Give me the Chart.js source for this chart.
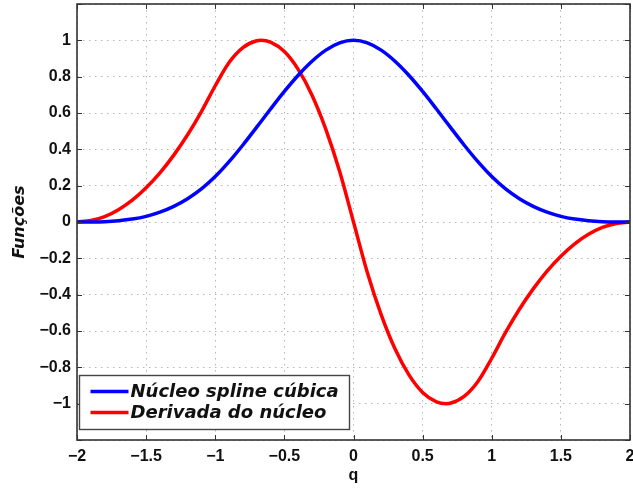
<!DOCTYPE html>
<html>
<head>
<meta charset="utf-8">
<script src="https://cdn.jsdelivr.net/npm/chart.js@4.4.1/dist/chart.umd.min.js"></script>
<style>
    html, body { margin: 0; padding: 0; background: #fff; }
</style>
</head>
<body>
<canvas id="grafico" width="633" height="488"></canvas>
<script>
// Valeurs (q de -2 à 2)
const qValues = [
    -2.0, -1.9, -1.8, -1.7, -1.6, -1.5, -1.4, -1.3, -1.2, -1.1,
    -1.0, -0.9, -0.8, -0.7, -0.67, -0.6, -0.5, -0.4, -0.3, -0.2, -0.1,
    0.0, 0.1, 0.2, 0.3, 0.4, 0.5, 0.6, 0.67, 0.7, 0.8, 0.9,
    1.0, 1.1, 1.2, 1.3, 1.4, 1.5, 1.6, 1.7, 1.8, 1.9, 2.0
];
const nucleoValues = [
    0.0, 0.0003, 0.002, 0.007, 0.016, 0.031, 0.054, 0.086, 0.128, 0.182,
    0.25, 0.332, 0.424, 0.522, 0.552, 0.622, 0.719, 0.808, 0.885, 0.946, 0.986,
    1.0, 0.986, 0.946, 0.885, 0.808, 0.719, 0.622, 0.552, 0.522, 0.424, 0.332,
    0.25, 0.182, 0.128, 0.086, 0.054, 0.031, 0.016, 0.007, 0.002, 0.0003, 0.0
];
const derivadaValues = [
    0.0, 0.008, 0.03, 0.068, 0.12, 0.188, 0.27, 0.368, 0.48, 0.608,
    0.75, 0.878, 0.96, 0.998, 1.0, 0.99, 0.938, 0.84, 0.698, 0.51, 0.278,
    0.0, -0.278, -0.51, -0.698, -0.84, -0.938, -0.99, -1.0, -0.998, -0.96, -0.878,
    -0.75, -0.608, -0.48, -0.368, -0.27, -0.188, -0.12, -0.068, -0.03, -0.008, 0.0
];
const seriesLabels = ['Núcleo spline cúbica', 'Derivada do núcleo'];
const seriesColors = ['#0000ff', '#ff0000'];
const xTickValues = [-2, -1.5, -1, -0.5, 0, 0.5, 1, 1.5, 2];
const yTickValues = [-1.2, -1, -0.8, -0.6, -0.4, -0.2, 0, 0.2, 0.4, 0.6, 0.8, 1, 1.2];

const tickFont = { family: '"Liberation Sans", Arial, sans-serif', size: 16, weight: 'bold' };
const frameColor = '#333333';

/**
 * Formate une graduation à la manière de MATLAB (signe moins typographique)
 */
function formatTick(value) {
    const r = Math.round(value * 10) / 10;
    return String(r).replace('-', '\u2212');
}

/**
 * Dessine le cadre, les graduations internes et la légende encadrée
 */
const cadrePlugin = {
    id: 'cadre',
    afterDraw(chart) {
        const { ctx, chartArea: a, scales } = chart;
        ctx.save();

        // Graduations vers l'intérieur sur les quatre côtés
        ctx.strokeStyle = frameColor;
        ctx.lineWidth = 1;
        const len = 5;
        xTickValues.forEach(v => {
            const x = Math.round(scales.x.getPixelForValue(v)) + 0.5;
            ctx.beginPath();
            ctx.moveTo(x, a.bottom); ctx.lineTo(x, a.bottom - len);
            ctx.moveTo(x, a.top); ctx.lineTo(x, a.top + len);
            ctx.stroke();
        });
        yTickValues.forEach(v => {
            const y = Math.round(scales.y.getPixelForValue(v)) + 0.5;
            ctx.beginPath();
            ctx.moveTo(a.left, y); ctx.lineTo(a.left + len, y);
            ctx.moveTo(a.right, y); ctx.lineTo(a.right - len, y);
            ctx.stroke();
        });

        // Cadre du graphique
        ctx.lineWidth = 1.6;
        ctx.strokeRect(a.left, a.top, a.right - a.left, a.bottom - a.top);

        // Légende à l'intérieur, en bas à gauche
        const box = { x: 79.5, y: a.bottom - 64.5, w: 270, h: 54 };
        ctx.fillStyle = '#fff';
        ctx.fillRect(box.x, box.y, box.w, box.h);
        ctx.lineWidth = 1.4;
        ctx.strokeStyle = '#444';
        ctx.strokeRect(box.x, box.y, box.w, box.h);

        ctx.font = 'italic bold 18px "DejaVu Sans", sans-serif';
        ctx.textBaseline = 'middle';
        chart.data.datasets.forEach((ds, i) => {
            const y = box.y + 16 + i * 21;
            ctx.strokeStyle = ds.borderColor;
            ctx.lineWidth = 3.5;
            ctx.beginPath();
            ctx.moveTo(box.x + 11, y);
            ctx.lineTo(box.x + 49, y);
            ctx.stroke();
            ctx.fillStyle = '#111';
            ctx.fillText(ds.label, box.x + 51, y + 1);
        });
        ctx.restore();
    }
};

const ctx = document.getElementById('grafico');

const chart = new Chart(ctx, {
    type: 'line',
    data: {
        datasets: [nucleoValues, derivadaValues].map((values, i) => ({
            label: seriesLabels[i],
            data: qValues.map((q, k) => ({ x: q, y: values[k] })),
            borderColor: seriesColors[i],
            borderWidth: 3.5,
            pointRadius: 0,
            fill: false,
            cubicInterpolationMode: 'monotone'
        }))
    },
    options: {
        responsive: false,
        animation: false,
        devicePixelRatio: 1,
        layout: { padding: { top: 4, right: 3, left: 0, bottom: 0 } },
        plugins: {
            legend: { display: false },
            tooltip: { enabled: false }
        },
        scales: {
            x: {
                type: 'linear',
                min: -2,
                max: 2,
                afterFit(scale) {
                    scale.height = 48;
                    scale.paddingLeft = 0;
                    scale.paddingRight = 0;
                },
                afterBuildTicks(scale) { scale.ticks = xTickValues.map(v => ({ value: v })); },
                ticks: {
                    color: '#111',
                    font: tickFont,
                    padding: 7,
                    maxRotation: 0,
                    callback: formatTick
                },
                grid: {
                    color: '#b5b5b5',
                    drawTicks: false,
                    tickLength: 0
                },
                border: { display: false, dash: [1.5, 4.5] },
                title: {
                    display: true,
                    text: 'q',
                    color: '#111',
                    font: { family: '"Liberation Sans", Arial, sans-serif', size: 16, weight: 'bold' },
                    padding: { top: 0, bottom: 3 }
                }
            },
            y: {
                type: 'linear',
                min: -1.2,
                max: 1.2,
                afterFit(scale) {
                    scale.width = 77;
                    scale.paddingTop = 0;
                    scale.paddingBottom = 0;
                },
                afterBuildTicks(scale) { scale.ticks = yTickValues.map(v => ({ value: v })); },
                ticks: {
                    color: '#111',
                    font: tickFont,
                    padding: 6,
                    callback(value) {
                        return Math.abs(value) > 1.1 ? '' : formatTick(value);
                    }
                },
                grid: {
                    color: '#b5b5b5',
                    drawTicks: false,
                    tickLength: 0
                },
                border: { display: false, dash: [1.5, 4.5] },
                title: {
                    display: true,
                    text: 'Funções',
                    color: '#111',
                    font: { family: '"DejaVu Sans", sans-serif', size: 16, weight: 'bold', style: 'italic' },
                    padding: { top: 10, bottom: 0 }
                }
            }
        }
    },
    plugins: [cadrePlugin]
});
</script>
</body>
</html>
